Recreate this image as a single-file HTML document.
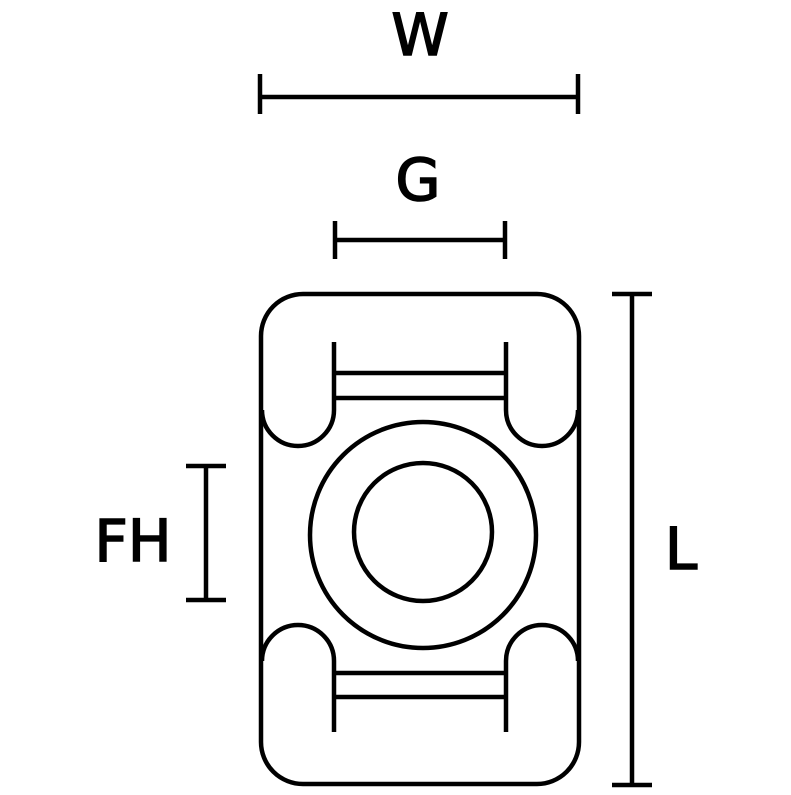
<!DOCTYPE html>
<html><head><style>body{margin:0;background:#fff}</style></head><body>
<svg width="791" height="790" viewBox="0 0 791 790" xmlns="http://www.w3.org/2000/svg">
<g fill="none" stroke="#000" stroke-width="4.5" stroke-linecap="butt">
<rect x="261" y="294" width="318" height="490" rx="42"/>
<path d="M334 342 V410 A36 36 0 0 1 262 410"/>
<path d="M506 342 V410 A36 36 0 0 0 578 410"/>
<line x1="334" y1="373" x2="506" y2="373"/>
<line x1="334" y1="398" x2="506" y2="398"/>
<path d="M334 732 V661 A36 36 0 0 0 262 661"/>
<path d="M506 732 V661 A36 36 0 0 1 578 661"/>
<line x1="334" y1="673" x2="506" y2="673"/>
<line x1="334" y1="697" x2="506" y2="697"/>
<circle cx="423" cy="535" r="113"/>
<circle cx="423" cy="532" r="69"/>
<line x1="260" y1="97" x2="578" y2="97"/>
<line x1="260" y1="74" x2="260" y2="114"/>
<line x1="578" y1="74" x2="578" y2="114"/>
<line x1="335" y1="240" x2="505" y2="240"/>
<line x1="335" y1="221" x2="335" y2="259"/>
<line x1="505" y1="221" x2="505" y2="259"/>
<line x1="632" y1="294" x2="632" y2="785"/>
<line x1="612" y1="294" x2="652" y2="294"/>
<line x1="612" y1="785" x2="652" y2="785"/>
<line x1="206" y1="466" x2="206" y2="600"/>
<line x1="186" y1="466" x2="226" y2="466"/>
<line x1="186" y1="600" x2="226" y2="600"/>
</g>
<g font-family="'DejaVu Sans','Liberation Sans',sans-serif" font-size="58" fill="#000" stroke="#000" stroke-width="1.6" text-anchor="middle">
<text x="420" y="55">W</text>
<text x="418" y="200">G</text>
<text x="681" y="569">L</text>
<text x="133" y="561">FH</text>
</g>
</svg>
</body></html>
